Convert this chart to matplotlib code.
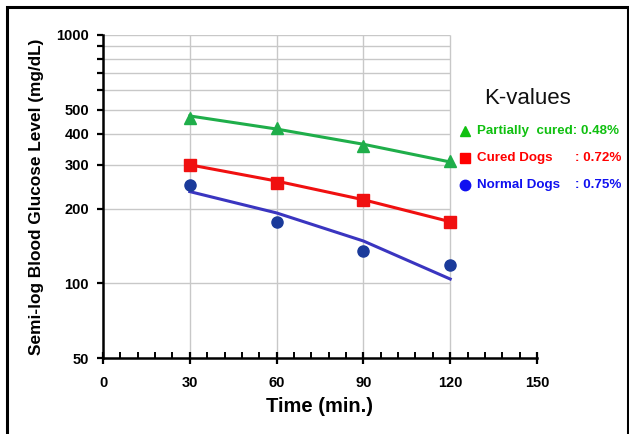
import matplotlib
matplotlib.use("Agg")
import matplotlib.pyplot as plt
from matplotlib.patches import Rectangle
from matplotlib.ticker import FixedLocator, NullFormatter, MultipleLocator

plt.rcParams['font.family'] = ['Liberation Sans', 'DejaVu Sans']

# ---- data ----
time_min = [30, 60, 90, 120]
partial_pts = [462, 423, 357, 311]
cured_pts = [299, 253, 216, 177]
normal_pts = [249, 177, 135, 118]
partial_fit = [472, 418, 363, 308]
cured_fit = [300, 258, 217, 177]
normal_fit = [234, 192, 148, 104]

y_ticks = [50, 100, 200, 300, 400, 500, 1000]
y_minor = [600, 700, 800, 900]
y_grid = [100, 200, 300, 400, 500, 600, 700, 800, 900, 1000]
x_ticks = [0, 30, 60, 90, 120, 150]
legend_labels = ["Partially  cured: 0.48%", "Cured Dogs", "Normal Dogs"]
legend_k = [None, ": 0.72%", ": 0.75%"]

W, H = 629, 434
fig = plt.figure(figsize=(W / 100, H / 100), dpi=100)
ax = fig.add_axes([103 / W, 1 - 358 / H, (537 - 103) / W, (358 - 35) / H])

ax.set_yscale('log')
ax.set_ylim(50, 1000)
ax.set_xlim(0, 150)

grid_c = '#c8c8c8'
ax.hlines(y_grid, 0, 120, colors=grid_c, lw=1.0, zorder=1)
ax.vlines(time_min, 50, 1000, colors=grid_c, lw=1.0, zorder=1)

green = '#1fae4a'
red = '#f01010'
blue_line = '#3a35c0'
blue_pt = '#1a3a9a'

ax.plot(time_min, partial_fit, color=green, lw=2.2, zorder=3)
ax.plot(time_min, cured_fit, color=red, lw=2.2, zorder=3)
ax.plot(time_min, normal_fit, color=blue_line, lw=2.2, zorder=3)

ax.plot(time_min, partial_pts, ls='none', marker='^', ms=9, color=green, zorder=4)
ax.plot(time_min, cured_pts, ls='none', marker='s', ms=8.5, color=red, zorder=4)
ax.plot(time_min, normal_pts, ls='none', marker='o', ms=8, color=blue_pt, zorder=4)

for s in ['top', 'right']:
    ax.spines[s].set_visible(False)
for s in ['left', 'bottom']:
    ax.spines[s].set_linewidth(1.8)
    ax.spines[s].set_color('black')

ax.yaxis.set_major_locator(FixedLocator(y_ticks))
ax.set_yticklabels([str(v) for v in y_ticks])
ax.yaxis.set_minor_locator(FixedLocator(y_minor))
ax.yaxis.set_minor_formatter(NullFormatter())
ax.tick_params(axis='y', which='both', direction='out', length=4, width=1.6, pad=6,
               labelsize=10.5)
ax.set_xticks(x_ticks)
ax.xaxis.set_minor_locator(MultipleLocator(6))
ax.tick_params(axis='x', which='major', direction='inout', length=8, width=1.6, pad=9,
               labelsize=10.5)
ax.tick_params(axis='x', which='minor', direction='in', length=4, width=1.4)
for lab in ax.get_xticklabels() + ax.get_yticklabels():
    lab.set_fontweight('bold')

ax.set_xlabel('Time (min.)', fontsize=14.5, fontweight='bold', labelpad=5)
ax.set_ylabel('Semi-log Blood Glucose Level (mg/dL)', fontsize=12.4, fontweight='bold',
              labelpad=9)

# legend area (figure pixel coordinates)
def fx(px):
    return px / W

def fy(py):
    return 1 - py / H

fig.text(fx(528), fy(99), 'K-values', fontsize=16, ha='center', va='center', color='#111111')
leg_colors = ['#10c010', '#ff0000', '#1010f0']
leg_markers = ['^', 's', 'o']
leg_y = [131, 158, 185]
for lab, k, c, m, yy in zip(legend_labels, legend_k, leg_colors, leg_markers, leg_y):
    fig.lines.append(plt.Line2D([fx(465)], [fy(yy)], marker=m, ms=7.5,
                                color=c, ls='none', transform=fig.transFigure))
    fig.text(fx(477), fy(yy), lab, fontsize=9.6, fontweight='bold', color=c,
             ha='left', va='center')
    if k:
        fig.text(fx(621), fy(yy), k, fontsize=9.6, fontweight='bold', color=c,
                 ha='right', va='center')

# outer border
fig.patches.append(Rectangle((fx(7), -0.1), fx(628) - fx(7), fy(7) + 0.1,
                             transform=fig.transFigure, fill=False, ec='black', lw=2.2))

fig.savefig('out.png', dpi=100)
